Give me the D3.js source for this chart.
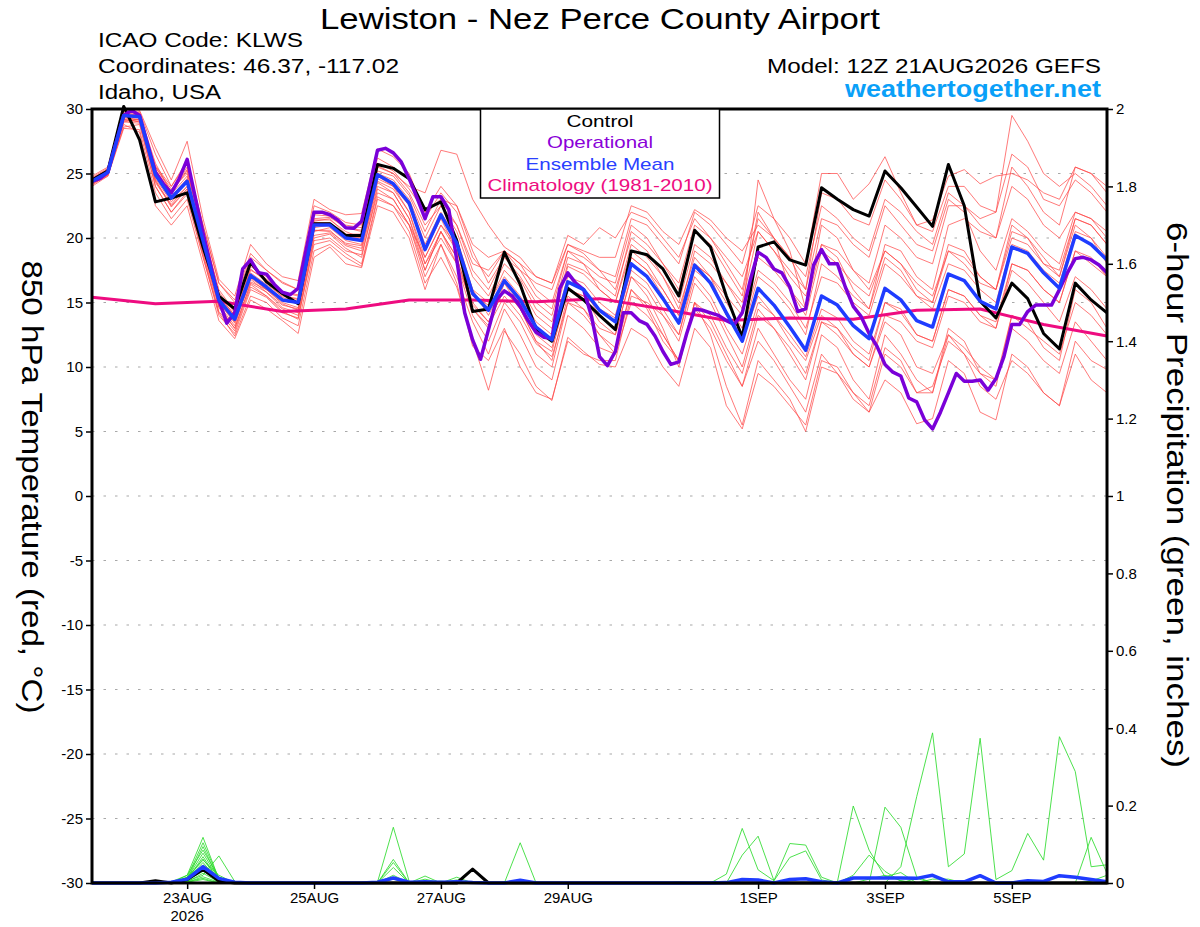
<!DOCTYPE html>
<html>
<head>
<meta charset="utf-8">
<script src="https://cdn.jsdelivr.net/npm/d3@7/dist/d3.min.js"></script>
<style>
  body { margin: 0; background: #fff; }
  svg { display: block; }
  text { font-family: "Liberation Sans", Arial, Helvetica, sans-serif; }
</style>
</head>
<body>
<svg id="chart" width="1200" height="927"></svg>
<script>
// ---------------- DATA ----------------
const runStartISO = "2026-08-21T12:00:00Z";   // 12Z 21AUG2026 GEFS
const memberStepHours = 6;
const operationalStepHours = 3;
const climatologyStepHours = 24;

const tickDates  = ["2026-08-23","2026-08-25","2026-08-27","2026-08-29","2026-09-01","2026-09-03","2026-09-05"];
const tickLabels = ["23AUG","25AUG","27AUG","29AUG","1SEP","3SEP","5SEP"];
const yearLabel  = "2026";
const tempTicks   = [30,25,20,15,10,5,0,-5,-10,-15,-20,-25,-30];
const precipTicks = [0,0.2,0.4,0.6,0.8,1,1.2,1.4,1.6,1.8,2];

// 850 hPa temperature (°C), 6-hourly
const control = [
  24.5,25.2,30.2,27.6,22.8,23.1,23.5,19.3,15.5,14.5,
  18.1,16.6,15.7,14.9,21.1,21.1,20.2,20.2,25.7,25.4,
  24.6,22.2,22.8,19.8,14.3,14.5,18.9,16.4,12.9,12.0,
  16.1,15.2,14.0,12.9,19.0,18.7,17.6,15.5,20.6,19.3,
  15.5,12.3,19.3,19.7,18.3,17.9,23.9,23.0,22.2,21.7,
  25.2,23.9,22.4,20.9,25.7,22.5,15.1,13.8,16.5,15.3,
  12.6,11.4,16.5,15.2,14.2];

const ensembleMean = [
  24.4,25.1,29.5,29.4,24.9,23.1,24.4,19.8,15.2,13.7,
  17.1,16.2,15.2,15.0,21.0,21.0,20.0,19.8,24.9,24.2,
  22.7,19.1,21.8,19.6,15.7,14.4,16.7,15.2,13.1,12.1,
  16.6,16.0,14.4,13.5,18.0,17.0,15.3,13.4,17.9,16.5,
  14.2,12.0,16.1,14.8,13.1,11.3,15.5,14.8,13.2,12.2,
  16.1,15.2,13.6,13.1,17.2,16.7,15.1,14.5,19.3,18.8,
  17.3,16.1,20.2,19.5,18.3];

// operational run, 3-hourly
const operational = [
  24.4,24.6,25.1,27.3,29.5,29.9,29.5,27.3,25.1,24.2,
  23.5,24.6,26.1,23.2,20.4,17.8,15.2,13.4,14.2,17.6,
  18.3,17.3,17.2,16.4,15.8,15.6,16.1,19.1,22.0,22.0,
  21.8,21.4,20.8,20.75,21.3,24.0,26.8,26.95,26.6,25.9,
  24.6,23.1,21.5,23.2,23.2,22.2,18.3,14.2,12.1,10.6,
  12.9,15.2,15.9,15.5,14.7,13.6,12.7,12.3,12.2,16.1,
  17.3,16.5,16.0,13.9,10.8,10.1,11.2,14.2,14.2,13.6,
  13.3,12.4,11.2,10.2,10.4,12.6,14.5,14.4,14.2,14.0,
  13.6,13.3,14.2,16.7,18.9,18.5,17.6,17.3,16.2,14.3,
  14.5,17.9,19.1,18.0,18.0,16.2,14.7,13.9,12.6,11.6,
  10.2,9.6,9.3,7.6,7.3,5.9,5.2,6.5,8.0,9.5,
  8.9,8.9,9.0,8.2,9.1,10.8,13.3,13.3,14.3,14.8,
  14.8,14.8,16.0,17.3,18.4,18.5,18.3,17.9,17.3];

// climatology (1981-2010), daily
const climatology = [15.4,14.9,15.1,14.3,14.5,15.2,15.2,15.05,15.3,14.5,13.6,13.8,13.7,14.4,14.5,13.3,12.4];

// ensemble members (red), 6-hourly
const member01 = [24.6,25.3,29.2,29.0,25.5,23.8,25.0,20.5,15.8,14.2,17.8,17.0,15.8,15.5,21.5,21.6,20.8,
  20.6,25.6,25.0,24.0,23.5,26.8,26.5,23.0,21.0,19.3,18.5,17.0,16.5,19.5,18.8,17.5,
  16.0,20.0,19.0,17.0,14.5,18.5,17.0,14.0,12.0,15.5,14.0,12.5,10.8,14.5,13.8,12.0,
  11.0,15.0,14.2,12.5,12.0,16.0,15.5,14.0,13.5,18.0,17.5,16.0,15.0,19.0,18.5,17.0];
const member02 = [24.2,24.9,28.6,28.8,24.0,22.0,23.4,18.6,14.0,12.6,16.0,15.4,14.2,13.8,19.5,19.8,18.8,
  18.0,23.2,22.5,20.5,16.5,18.5,16.2,12.0,8.2,12.8,11.0,8.5,7.4,12.3,11.2,10.2,
  10.0,13.0,12.2,10.0,8.5,13.0,11.5,7.0,5.2,9.5,8.5,7.0,5.5,10.5,10.0,8.0,
  7.0,11.5,10.5,8.0,8.5,12.0,11.0,9.5,9.0,13.0,12.0,10.5,9.5,13.5,12.0,10.5];
const member03 = [24.5,25.2,29.8,29.6,25.8,23.5,25.5,20.2,15.0,13.4,16.8,15.8,14.8,14.5,20.6,20.5,19.6,
  19.4,24.4,23.8,22.0,18.5,21.0,19.0,15.5,14.8,17.5,16.2,14.0,13.0,17.8,17.2,16.0,
  15.0,19.5,18.5,17.0,15.0,19.5,18.5,16.5,14.5,18.5,17.5,16.0,14.5,19.5,19.0,17.5,
  16.5,21.0,20.0,18.5,18.0,22.5,22.5,21.5,22.0,29.5,27.5,25.0,24.0,25.0,24.0,22.5];
const member04 = [24.3,25.0,29.0,29.2,24.4,22.6,24.0,19.2,14.6,13.0,16.5,15.8,14.6,14.2,20.2,20.4,19.4,
  19.0,24.0,23.5,21.5,18.0,20.5,18.5,14.5,13.2,15.5,14.0,11.8,10.8,15.0,14.0,12.5,
  11.5,16.0,14.8,12.5,10.5,14.5,13.0,10.5,8.5,12.0,10.5,8.5,6.5,11.0,9.5,7.5,
  6.5,9.0,8.0,5.6,6.0,10.5,9.5,6.5,5.9,11.0,10.0,8.0,7.0,12.0,10.5,9.8];
const member05 = [24.8,25.5,29.6,29.8,26.5,24.0,26.0,21.0,16.5,15.0,18.5,17.5,16.5,16.0,22.5,22.0,21.2,
  21.0,26.2,25.5,24.5,21.5,23.5,22.0,18.5,17.0,19.0,18.0,16.0,15.0,19.0,18.0,17.0,
  16.5,21.0,20.0,18.0,16.5,21.0,20.0,18.0,16.0,21.5,20.0,18.5,17.0,22.5,21.5,20.0,
  19.0,23.0,22.0,20.5,19.5,23.5,22.5,21.0,20.0,24.0,23.0,21.0,20.0,22.0,21.5,20.0];
const member06 = [24.0,24.8,28.5,28.4,23.5,21.5,23.0,18.5,14.2,12.4,15.5,15.0,13.8,13.2,19.0,19.5,18.5,
  17.8,23.0,22.5,21.0,17.5,20.5,18.0,14.8,13.5,16.0,14.5,12.0,11.2,16.0,15.5,14.5,
  13.8,18.5,17.5,16.0,14.0,19.0,18.0,16.5,15.0,20.5,19.0,17.5,16.0,21.5,21.0,19.5,
  18.5,22.5,21.0,19.5,19.0,23.0,22.0,19.0,17.5,21.5,20.5,19.0,18.0,22.0,21.5,20.5];
const member07 = [24.4,25.0,29.2,29.0,24.6,22.8,24.0,19.5,15.0,13.5,17.0,16.0,15.0,14.6,20.5,20.8,19.8,
  19.5,24.6,24.0,22.5,19.0,21.5,19.0,15.0,13.5,16.0,14.5,12.5,11.5,16.0,15.5,13.5,
  12.5,17.0,16.0,14.0,12.0,16.5,15.0,12.5,10.0,14.5,13.0,11.5,9.5,13.5,12.5,11.0,
  10.0,14.0,13.5,12.0,11.5,15.5,15.0,13.5,13.0,17.5,16.5,15.0,13.5,17.0,16.0,14.5];
const member08 = [24.6,25.3,29.9,29.7,25.0,23.4,24.8,20.0,15.5,14.0,17.5,16.8,15.6,15.2,21.4,21.4,20.5,
  20.0,25.0,24.5,23.0,20.0,22.5,20.5,17.0,15.5,18.0,16.8,14.5,13.5,18.0,17.5,16.5,
  15.5,20.5,19.5,18.0,16.0,20.5,19.5,17.5,15.5,22.0,20.0,18.5,16.0,23.5,23.0,21.5,
  21.0,24.5,23.0,21.0,20.5,24.0,24.0,22.5,22.0,26.5,25.5,23.0,22.5,24.5,23.5,22.0];
const member09 = [24.2,24.8,28.8,28.2,22.5,21.0,22.5,18.0,13.6,12.2,15.2,14.5,13.6,12.6,18.5,19.3,18.0,
  17.7,22.5,22.0,20.0,16.0,19.5,17.0,13.5,11.0,14.5,12.5,10.0,9.0,14.0,13.0,11.5,
  11.0,15.0,14.0,12.5,10.5,15.0,14.0,11.5,9.5,14.0,13.0,11.0,9.0,13.5,13.0,11.5,
  10.5,15.0,14.5,12.5,12.0,16.0,15.5,14.0,13.0,18.0,17.5,16.0,15.0,19.0,18.0,17.0];
const member10 = [24.7,25.4,30.0,29.9,27.0,24.5,27.5,21.5,16.8,15.5,19.5,18.0,17.0,16.7,23.0,22.2,21.8,
  21.9,26.9,26.3,25.0,22.0,24.0,22.5,19.0,16.5,18.5,17.0,15.0,14.0,18.5,18.0,16.0,
  15.0,19.0,18.0,16.0,14.0,18.0,17.0,15.0,13.0,17.5,16.5,15.0,13.0,17.0,16.5,15.0,
  14.0,18.0,17.0,15.5,15.0,19.0,18.0,16.5,16.0,21.0,20.0,18.0,17.0,21.5,21.0,19.5];
const member11 = [24.3,25.0,29.4,29.5,24.8,23.0,24.5,19.6,15.2,13.6,16.6,16.0,15.2,14.9,20.8,21.0,20.0,
  19.8,24.8,24.0,22.0,18.0,20.0,18.0,14.0,12.0,15.0,13.5,11.0,10.0,15.0,14.5,13.0,
  12.5,17.0,15.5,13.0,10.0,15.0,12.5,8.5,5.5,10.5,9.0,7.5,5.0,10.0,9.5,8.0,
  6.5,11.0,10.0,8.0,8.0,12.5,11.5,10.0,9.0,14.0,13.0,12.0,11.0,15.0,14.0,12.5];
const member12 = [24.5,25.2,29.6,29.3,25.2,23.2,24.6,19.9,15.4,13.9,17.3,16.4,15.5,15.3,21.2,21.2,20.1,
  20.0,25.0,24.3,22.8,19.5,22.0,20.0,16.0,15.0,17.0,15.5,13.5,12.5,17.0,16.5,15.0,
  14.0,18.5,17.5,15.5,13.5,18.0,17.0,15.5,14.0,24.5,21.5,19.0,14.5,21.0,20.0,17.5,
  16.0,19.0,18.0,16.0,15.0,19.5,19.0,17.0,16.0,20.5,20.0,18.5,17.0,21.0,20.0,18.5];
const member13 = [24.1,24.9,29.1,29.2,24.3,22.5,23.8,19.0,14.7,13.0,16.4,15.5,14.5,14.0,20.0,20.3,19.2,
  18.5,23.8,23.0,21.0,17.0,19.5,16.5,11.6,10.5,13.0,10.0,8.0,7.5,12.0,11.0,10.5,
  10.5,15.5,15.0,14.0,12.5,17.5,16.5,14.0,12.5,17.0,16.0,14.5,12.5,18.0,17.0,15.5,
  14.5,19.5,19.0,17.0,16.0,21.0,21.5,20.5,20.0,25.5,24.0,22.0,21.0,25.5,25.0,23.5];
const member14 = [24.6,25.2,29.3,29.2,25.3,23.5,25.2,20.3,15.6,14.0,17.6,16.6,15.4,15.0,21.3,21.5,20.3,
  20.3,25.2,24.8,23.3,20.5,23.0,21.0,17.5,16.0,18.5,17.5,15.5,14.5,19.0,18.5,17.5,
  17.0,21.5,21.0,19.5,18.0,22.0,21.0,19.5,18.0,22.5,21.5,20.0,18.0,25.0,25.0,23.0,
  24.2,26.3,23.5,21.0,21.4,24.8,25.3,24.2,24.8,25.0,24.5,23.5,23.0,25.5,25.0,24.0];
const member15 = [24.4,25.1,29.5,29.6,24.5,22.4,23.8,19.4,14.8,13.2,16.9,16.0,14.9,14.4,20.6,20.6,19.5,
  19.2,24.3,23.5,21.5,17.5,20.5,18.5,14.5,13.0,16.5,14.5,12.0,10.5,15.5,14.5,12.5,
  11.0,16.0,14.5,12.0,10.5,15.0,13.5,11.0,8.5,13.0,11.0,9.0,7.5,12.5,11.5,9.0,
  7.5,12.5,11.0,9.0,8.0,13.0,12.0,9.5,8.5,14.0,13.5,11.5,10.5,16.0,15.0,13.0];
const member16 = [24.5,25.1,29.7,29.5,25.5,23.6,25.3,20.6,16.0,14.3,18.0,16.8,15.8,15.6,21.8,21.7,20.8,
  20.5,25.5,25.0,23.5,21.0,22.5,21.0,18.0,17.5,19.0,17.5,16.5,16.0,19.5,19.0,18.5,
  18.5,22.5,22.0,20.5,19.5,22.2,21.4,20.0,19.0,21.0,20.0,16.0,14.0,19.0,18.0,16.5,
  15.5,19.0,18.0,16.5,15.5,19.0,18.5,17.0,16.0,20.0,19.5,18.0,17.5,21.5,21.0,19.5];
const member17 = [24.3,24.9,29.0,28.9,24.0,22.0,23.6,18.8,14.3,12.8,16.2,15.5,14.3,13.7,19.8,20.0,19.0,
  18.7,23.5,23.0,21.0,18.5,21.0,19.5,16.0,14.0,16.5,15.0,13.0,12.0,16.5,16.0,14.0,
  13.0,17.5,16.5,14.5,12.5,17.0,15.5,13.0,11.0,15.0,14.0,12.0,10.5,14.0,13.0,11.0,
  10.0,13.5,12.5,10.0,9.5,12.5,11.0,8.5,7.5,10.5,9.5,8.0,7.0,11.0,9.0,8.0];
const member18 = [24.6,25.3,29.4,29.1,25.6,24.0,25.8,21.0,16.5,15.2,18.8,17.5,16.6,16.0,22.0,21.8,21.0,
  20.8,25.8,25.2,23.8,22.0,23.0,22.5,19.5,18.5,19.0,18.0,17.0,16.5,20.2,19.5,20.8,
  20.0,22.0,21.5,20.0,18.5,21.5,20.0,18.5,17.0,20.5,19.0,17.0,15.5,19.5,18.5,16.0,
  14.5,18.5,17.5,15.5,14.5,18.0,17.5,16.0,15.0,19.5,19.0,17.5,16.5,20.5,20.0,18.0];
const members = [member01,member02,member03,member04,member05,member06,member07,member08,member09,
                 member10,member11,member12,member13,member14,member15,member16,member17,member18];

// 6-hour precipitation (inches), 6-hourly
const controlPrecip = [
  0,0,0,0,.006,0,.009,.035,.005,0,  0,0,0,0,0,0,0,0,0,0,
  0,0,0,0,.036,0,0,0,0,0,  0,0,0,0,0,0,0,0,0,0,
  0,0,0,0,0,0,0,0,0,0,  0,0,0,0,0,0,0,0,0,0,  0,0,0,0,0];
const meanPrecip = [
  0,0,0,0,0,.002,.01,.042,.012,.002,  0,0,0,0,0,0,0,0,.002,.013,
  .002,.003,.002,.003,.001,0,0,.007,0,0,  0,0,0,0,0,0,0,0,0,0,
  .001,.009,.008,0,.009,.011,.003,0,.013,.013,  .013,.013,.012,.02,.003,.003,.019,0,0,.006,
  .004,.019,.015,.009,.003];
const precip01 = [0,0,0,0,0,.003,.02,.118,.01,0, 0,0,0,0,0,0,0,0,0,0, 0,0,0,0,0,0,0,0,0,0, 0,0,0,0,0,0,0,0,0,0,
  .023,.141,.034,.006,.102,.098,.015,0,0,0, 0,0,0,0,0,0,0,0,0,0, 0,0,0,0,0];
const precip02 = [0,0,0,0,0,0,.015,.104,.012,0, 0,0,0,0,0,0,0,0,0,0, 0,0,.005,0,0,0,0,0,0,0, 0,0,0,0,0,0,0,0,0,0,
  0,0,0,0,0,0,0,0,0,0, 0,0,0,.01,.01,0,0,0,0,0, 0,0,0,0,0];
const precip03 = [0,0,0,0,0,0,.01,.094,.008,0, 0,0,0,0,0,0,0,0,.002,.144, .004,0,0,0,0,0,0,0,0,0, 0,0,0,0,0,0,0,0,0,0,
  0,0,0,0,0,0,0,0,0,0, 0,0,0,0,0,0,0,0,0,0, 0,0,0,0,0];
const precip04 = [0,0,0,0,0,0,.02,.085,.015,0, 0,0,0,0,0,0,0,0,0,0, 0,0,0,0,0,0,0,0,0,0, 0,0,0,0,0,0,0,0,0,0,
  0,.072,.121,.006,.066,.083,.008,0,0,0, 0,0,0,0,0,0,0,0,0,0, 0,0,0,0,0];
const precip05 = [0,0,0,0,0,0,.012,.077,.01,0, 0,0,0,0,0,0,0,0,0,.061, 0,0,0,0,0,0,0,0,0,0, 0,0,0,0,0,0,0,0,0,0,
  0,0,0,0,0,0,0,0,0,0, 0,0,0,0,0,0,0,0,0,0, 0,0,0,0,0];
const precip06 = [0,0,0,0,0,0,.008,.068,.006,0, 0,0,0,0,0,0,0,0,0,0, 0,.018,0,0,0,0,0,0,0,0, 0,0,0,0,0,0,0,0,0,0,
  0,0,0,0,0,0,0,.003,.199,.085, .016,.027,0,0,0,0,0,0,0,0, 0,0,0,0,0];
const precip07 = [0,0,0,0,0,0,.015,.059,.02,0, 0,0,0,0,0,0,0,0,0,0, 0,.01,0,0,0,0,0,0,0,0, 0,0,0,0,0,0,0,0,0,0,
  0,0,0,0,0,0,0,0,.02,.072, .03,.005,0,0,0,0,0,0,0,0, 0,0,0,0,0];
const precip08 = [0,0,0,0,0,0,.01,.053,.005,0, 0,0,0,0,0,0,0,0,0,.053, 0,0,0,0,0,0,0,0,0,0, 0,0,0,0,0,0,0,0,0,0,
  0,0,0,0,0,0,0,0,0,0, 0,0,0,0,0,0,0,0,0,0, 0,0,0,0,0];
const precip09 = [0,0,0,0,0,0,.006,.047,.01,0, 0,0,0,0,0,0,0,0,0,0, 0,0,0,.015,0,0,0,0,0,0, 0,0,0,0,0,0,0,0,0,0,
  0,0,0,0,0,0,0,0,0,0, .196,.144,.016,0,0,0,0,0,0,0, 0,0,0,0,0];
const precip10 = [0,0,0,0,0,0,.004,.034,.004,0, 0,0,0,0,0,0,0,0,0,.04, 0,0,0,0,0,0,0,0,0,0, 0,0,0,0,0,0,0,0,0,0,
  0,0,0,0,0,0,0,0,0,0, 0,0,0,0,0,0,0,0,0,0, 0,0,0,0,0];
const precip11 = [0,0,0,0,0,0,.003,.025,.003,0, 0,0,0,0,0,0,0,0,0,0, 0,0,0,.008,0,0,0,0,0,0, 0,0,0,0,0,0,0,0,0,0,
  0,0,0,0,0,0,0,0,0,.01, .02,.006,0,0,0,0,0,0,0,0, 0,0,0,0,0];
const precip12 = [0,0,0,0,0,0,.002,.016,.002,0, 0,0,0,0,0,0,0,0,0,.02, 0,0,0,0,0,0,0,0,0,0, 0,0,0,0,0,0,0,0,0,0,
  0,0,0,0,0,0,0,0,0,0, 0,0,.012,0,0,0,0,0,0,0, 0,0,0,0,0];
const precip13 = [0,0,0,0,0,0,.002,.009,0,0, 0,0,0,0,0,0,0,0,0,0, 0,0,0,0,0,0,0,.104,0,0, 0,0,0,0,0,0,0,0,0,0,
  0,0,0,0,0,0,0,0,0,0, 0,0,0,0,0,0,0,0,0,0, 0,0,0,0,0];
const precip14 = [0,0,0,0,0,0,.005,.02,.07,.004, 0,0,0,0,0,0,0,0,0,0, 0,0,0,0,0,0,0,0,0,0, 0,0,0,0,0,0,0,.003,0,0,
  0,0,0,0,0,0,0,0,0,0, 0,0,0,0,0,0,0,0,0,0, 0,0,0,0,0];
const precip15 = [0,0,0,0,0,0,.012,.04,.015,0, 0,0,0,0,0,0,0,0,0,.01, 0,0,0,0,0,0,0,0,0,0, 0,0,0,0,0,0,0,0,0,0,
  0,0,0,0,0,0,0,0,0,0, 0,0,0,0,0,0,0,0,0,0, 0,0,0,0,0];
const precip16 = [0,0,0,0,0,0,.007,.03,.01,0, 0,0,0,0,0,0,0,0,0,0, 0,0,0,0,0,0,0,0,0,0, 0,0,0,0,0,0,0,0,0,0,
  0,0,0,0,0,0,0,0,0,0, 0,.042,.223,.388,.042,.075,.374,.009,.032,.128, .059,.378,.288,.042,.047];
const precip17 = [0,0,0,0,0,0,.01,.062,.006,0, 0,0,0,0,0,0,0,0,0,0, 0,0,0,0,0,0,0,0,0,0, 0,0,0,0,0,0,0,0,0,0,
  0,0,0,0,0,0,0,0,0,0, 0,0,0,0,0,0,0,0,0,0, 0,0,0,.118,.025];
const precip18 = [0,0,0,0,0,0,.003,.012,0,0, 0,0,0,0,0,0,0,0,0,0, 0,0,0,0,0,0,0,0,0,0, 0,0,0,0,0,0,0,0,0,0,
  0,0,0,0,0,0,0,0,0,0, 0,0,0,0,0,0,0,0,0,0, 0,0,0,.005,.02];
const memberPrecip = [precip01,precip02,precip03,precip04,precip05,precip06,precip07,precip08,precip09,
                      precip10,precip11,precip12,precip13,precip14,precip15,precip16,precip17,precip18];

// ---------------- DRAW ----------------
const svg = d3.select("#chart");
const plot = { left: 92, right: 1107, top: 109, bottom: 883 };
const HOUR = 3600 * 1000;
const t0 = new Date(runStartISO).getTime();
const tEnd = t0 + (control.length - 1) * memberStepHours * HOUR;

const x  = d3.scaleUtc().domain([new Date(t0), new Date(tEnd)]).range([plot.left, plot.right]);
const yT = d3.scaleLinear().domain([-30, 30]).range([plot.bottom, plot.top]);
const yP = d3.scaleLinear().domain([0, 2]).range([plot.bottom, plot.top]);

function series(values, stepHours, yScale, color, width, opacity) {
  const line = d3.line()
    .x((d, i) => x(new Date(t0 + i * stepHours * HOUR)))
    .y(d => yScale(d));
  svg.append("path").datum(values)
    .attr("fill", "none")
    .attr("stroke", color)
    .attr("stroke-width", width)
    .attr("stroke-opacity", opacity)
    .attr("stroke-linejoin", "round")
    .attr("d", line);
}

// dotted grid
svg.append("g").selectAll("line")
  .data(tempTicks.filter(v => v > -30 && v < 30))
  .join("line")
  .attr("x1", plot.left).attr("x2", plot.right)
  .attr("y1", d => yT(d)).attr("y2", d => yT(d))
  .attr("stroke", "#a8a8a8").attr("stroke-width", 1.2)
  .attr("stroke-dasharray", "2.5,9");

// ensemble members (temperature)
members.forEach(m => series(m, memberStepHours, yT, "#ff4646", 0.9, 0.8));
// ensemble members (precipitation)
memberPrecip.forEach(p => series(p, memberStepHours, yP, "#2edc2e", 0.9, 0.95));

// climatology, control, operational, mean
series(climatology, climatologyStepHours, yT, "#ee0c80", 3, 1);
series(control, memberStepHours, yT, "#000000", 3, 1);
series(operational, operationalStepHours, yT, "#7a00d8", 3.5, 1);
series(ensembleMean, memberStepHours, yT, "#1f3cff", 3.5, 1);
series(controlPrecip, memberStepHours, yP, "#000000", 3, 1);
series(meanPrecip, memberStepHours, yP, "#1f3cff", 3.5, 1);

// axes
const font = '"Liberation Sans", Arial, sans-serif';
const gL = svg.append("g").attr("transform", `translate(${plot.left},0)`)
  .call(d3.axisLeft(yT).tickValues(tempTicks).tickSize(6).tickPadding(3).tickFormat(d => String(d)));
gL.select(".domain").remove();
gL.selectAll("text").attr("font-size", 15).attr("font-family", font).attr("fill", "#000");
gL.selectAll("line").attr("stroke-width", 1.5);

const gR = svg.append("g").attr("transform", `translate(${plot.right},0)`)
  .call(d3.axisRight(yP).tickValues(precipTicks).tickSize(6).tickPadding(3).tickFormat(d => String(+d.toFixed(1))));
gR.select(".domain").remove();
gR.selectAll("text").attr("font-size", 15).attr("font-family", font).attr("fill", "#000");
gR.selectAll("line").attr("stroke-width", 1.5);

const tickTimes = tickDates.map(s => new Date(s + "T00:00:00Z"));
const gB = svg.append("g").attr("transform", `translate(0,${plot.bottom})`)
  .call(d3.axisBottom(x).tickValues(tickTimes).tickSize(6).tickPadding(3).tickFormat((d, i) => tickLabels[i]));
gB.select(".domain").remove();
gB.selectAll("text").attr("font-size", 15).attr("font-family", font).attr("fill", "#000");
gB.selectAll("line").attr("stroke-width", 1.5);
svg.append("text").attr("x", x(tickTimes[0])).attr("y", 921)
  .attr("text-anchor", "middle").attr("font-size", 15).text(yearLabel);

// frame
svg.append("rect")
  .attr("x", plot.left).attr("y", plot.top)
  .attr("width", plot.right - plot.left).attr("height", plot.bottom - plot.top)
  .attr("fill", "none").attr("stroke", "#000").attr("stroke-width", 3);

// legend box
svg.append("rect").attr("x", 480.5).attr("y", plot.top).attr("width", 239).attr("height", 89)
  .attr("fill", "#fff").attr("stroke", "#000").attr("stroke-width", 1.5);
const legend = [
  { label: "Control", color: "#000000", y: 127, len: 67 },
  { label: "Operational", color: "#8a00d8", y: 148, len: 106 },
  { label: "Ensemble Mean", color: "#2a40ff", y: 170, len: 149 },
  { label: "Climatology (1981-2010)", color: "#ee0c80", y: 191, len: 225 }
];
svg.append("g").selectAll("text").data(legend).join("text")
  .attr("x", 600).attr("y", d => d.y).attr("text-anchor", "middle")
  .attr("font-size", 17).attr("fill", d => d.color)
  .attr("textLength", d => d.len).attr("lengthAdjust", "spacingAndGlyphs")
  .text(d => d.label);

// titles
function label(txt, xx, yy, size, anchor, len, opts = {}) {
  const t = svg.append("text").attr("x", xx).attr("y", yy).attr("font-size", size)
    .attr("text-anchor", anchor).attr("fill", opts.fill || "#000")
    .attr("font-weight", opts.weight || "normal")
    .attr("textLength", len).attr("lengthAdjust", "spacingAndGlyphs").text(txt);
  if (opts.transform) t.attr("transform", opts.transform);
  return t;
}
label("Lewiston - Nez Perce County Airport", 600, 29, 30, "middle", 560);
label("ICAO Code: KLWS", 98, 47, 20, "start", 205);
label("Coordinates: 46.37, -117.02", 98, 73, 20, "start", 301);
label("Idaho, USA", 98, 99, 20, "start", 123);
label("Model: 12Z 21AUG2026 GEFS", 1101, 73, 20, "end", 334);
label("weathertogether.net", 1101, 97, 23, "end", 256, { fill: "#0aa0f8", weight: "bold" });

// rotated axis titles (both read top-to-bottom)
label("850 hPa Temperature (red, °C)", 0, 0, 30, "middle", 453, { transform: "translate(22,487) rotate(90)" });
label("6-hour Precipitation (green, inches)", 0, 0, 30, "middle", 546, { transform: "translate(1167,495) rotate(90)" });
</script>
</body>
</html>
